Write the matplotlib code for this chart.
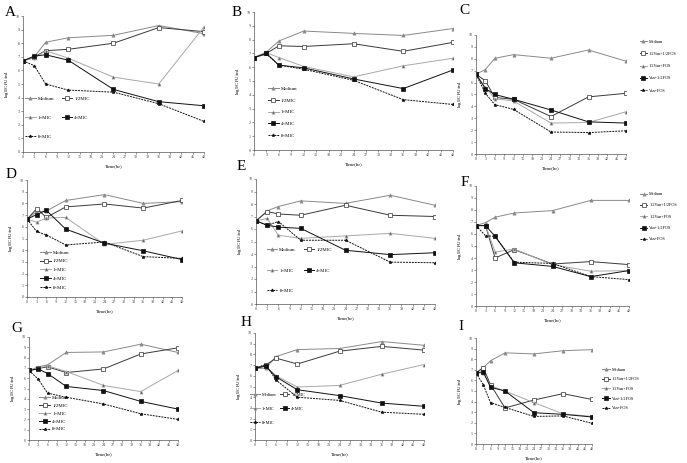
import matplotlib
matplotlib.use("Agg")
from matplotlib import pyplot as plt

plt.rcParams['font.family'] = ['Liberation Serif', 'DejaVu Serif']
plt.rcParams['mathtext.default'] = 'regular'

hours = [0, 3, 6, 12, 24, 36, 48]
mic_labels = ['Medium', '1/2MIC', '1×MIC', '4×MIC', '8×MIC']
combo_labels = ['Medium', '1/2Van+1/2FOS', '1/2Van+FOS', 'Van+1/2FOS', 'Van+FOS']

# log10 CFU/ml, one list per curve
a_medium = [6.7, 7.0, 8.07, 8.4, 8.58, 9.3, 8.7]
a_half = [6.7, 7.0, 7.45, 7.55, 8.0, 9.15, 8.85]
a_1x = [6.7, 6.9, 7.45, 6.9, 5.5, 5.0, 9.2]
a_4x = [6.7, 7.05, 7.15, 6.75, 4.6, 3.7, 3.4]
a_8x = [6.7, 6.35, 5.0, 4.55, 4.4, 3.55, 2.25]

b_medium = [6.7, 7.1, 7.9, 8.62, 8.45, 8.3, 8.8]
b_half = [6.7, 7.0, 7.55, 7.5, 7.7, 7.15, 7.8]
b_1x = [6.7, 7.05, 6.7, 6.05, 5.3, 6.1, 6.65]
b_4x = [6.7, 7.0, 6.15, 5.95, 5.15, 4.45, 5.8]
b_8x = [6.7, 6.95, 6.15, 5.85, 5.05, 3.65, 3.3]

c_medium = [6.7, 7.1, 8.04, 8.35, 8.05, 8.74, 7.8]
c_half_half = [6.7, 6.15, 4.75, 4.6, 3.15, 4.8, 5.1]
c_half_full = [6.7, 5.6, 4.65, 4.45, 2.6, 2.65, 3.55]
c_full_half = [6.7, 5.5, 5.0, 4.6, 3.7, 2.7, 2.6]
c_full_full = [6.7, 5.1, 4.15, 3.75, 1.85, 1.8, 1.95]

d_medium = [6.65, 7.3, 7.35, 8.25, 8.75, 8.0, 8.15]
d_half = [6.65, 7.55, 6.8, 7.7, 7.95, 7.6, 8.25]
d_1x = [6.65, 6.4, 6.75, 6.8, 4.5, 4.85, 5.65]
d_4x = [6.65, 7.05, 7.4, 5.8, 4.6, 3.95, 3.2]
d_8x = [6.65, 5.6, 5.3, 4.45, 4.7, 3.45, 3.3]

e_medium = [6.65, 7.45, 7.8, 8.25, 8.05, 8.7, 7.9]
e_half = [6.65, 7.4, 7.2, 7.1, 7.9, 7.1, 7.0]
e_1x = [6.65, 6.85, 5.5, 5.25, 5.45, 5.65, 5.25]
e_4x = [6.65, 6.3, 6.15, 6.05, 4.3, 3.95, 4.1]
e_8x = [6.65, 6.3, 6.6, 5.1, 5.1, 3.35, 3.3]

f_medium = [6.7, 6.95, 7.4, 7.75, 7.95, 8.8, 8.8]
f_half_half = [6.7, 6.7, 4.0, 4.7, 3.5, 3.7, 3.45]
f_half_full = [6.7, 6.7, 4.5, 4.75, 3.45, 2.9, 2.95]
f_full_half = [6.7, 6.7, 5.8, 3.6, 3.3, 2.45, 2.95]
f_full_full = [6.7, 5.85, 5.8, 3.65, 3.55, 2.45, 2.2]

g_medium = [6.75, 7.1, 7.3, 8.5, 8.55, 9.3, 8.5]
g_half = [6.75, 6.95, 7.1, 6.55, 6.9, 8.35, 8.95]
g_1x = [6.75, 7.0, 7.2, 6.65, 5.3, 4.7, 6.75]
g_4x = [6.75, 6.9, 6.45, 5.2, 4.8, 3.75, 3.0]
g_8x = [6.75, 5.9, 4.55, 4.15, 3.5, 2.55, 2.0]

h_medium = [6.7, 6.7, 7.8, 8.45, 8.55, 9.2, 8.85]
h_half = [6.7, 7.0, 7.65, 7.1, 8.3, 8.75, 8.4]
h_1x = [6.7, 6.9, 6.0, 4.95, 5.1, 6.15, 7.05]
h_4x = [6.7, 6.9, 5.9, 4.7, 4.15, 3.45, 3.15]
h_8x = [6.7, 7.05, 5.6, 4.0, 3.7, 2.6, 2.4]

i_medium = [6.7, 7.2, 7.85, 8.6, 8.5, 8.8, 8.9]
i_half_half = [6.7, 7.2, 5.6, 3.4, 4.15, 4.75, 4.2]
i_half_full = [6.7, 6.7, 5.5, 5.0, 3.9, 2.85, 2.6]
i_full_half = [6.7, 6.8, 5.35, 5.0, 2.95, 2.8, 2.55]
i_full_full = [6.7, 5.6, 3.9, 3.45, 2.6, 2.65, 1.95]

styles = [
    dict(color='#8a8a8a', ls='-', marker='^', mfc='#8a8a8a'),
    dict(color='#3a3a3a', ls='-', marker='s', mfc='white'),
    dict(color='#a8a8a8', ls='-', marker='^', mfc='#555555'),
    dict(color='#111111', ls='-', marker='s', mfc='#111111'),
    dict(color='#111111', ls=(0, (2, 1)), marker='*', mfc='#111111'),
]

fig = plt.figure(figsize=(6.87, 4.63), dpi=100)
W, H = 687.0, 463.0


def panel(px, letter, lpos, curves, labels, leg):
    x0, y0, x1, y1 = px
    ax = fig.add_axes([x0 / W, 1 - y1 / H, (x1 - x0) / W, (y1 - y0) / H])
    handles = []
    for vals, lab, st in zip(curves, labels, styles):
        h, = ax.plot(hours, vals, lw=0.7, ms=2.3, mew=0.5,
                     mec=st['color'] if st['mfc'] != 'white' else '#333333',
                     label=lab, color=st['color'], ls=st['ls'], marker=st['marker'], mfc=st['mfc'])
        handles.append(h)
    ax.set_xlim(0, 48)
    ax.set_ylim(0, 10)
    ax.set_xticks(range(0, 49, 3))
    ax.set_yticks(range(0, 11))
    for s in ['top', 'right']:
        ax.spines[s].set_visible(False)
    for s in ['left', 'bottom']:
        ax.spines[s].set_linewidth(0.5)
        ax.spines[s].set_color('#555555')
    ax.tick_params(labelsize=3, length=1.5, width=0.4, pad=1, colors='#444444')
    ax.set_xlabel('Time(hr)', fontsize=3.5, labelpad=3)
    ax.set_ylabel('log$_{10}$CFU/ml', fontsize=3.5, labelpad=3)
    fig.text(lpos[0] / W, 1 - lpos[1] / H, letter, fontsize=11, va='center', ha='left')
    ncol, anchor, spacing, colsp, fs, hl = leg
    if ncol == 2:
        order = [0, 2, 4, 1, 3]
        handles = [handles[k] for k in order]
    ax.legend(handles=handles, loc='upper left', bbox_to_anchor=anchor, frameon=False,
              fontsize=fs, ncol=ncol, labelspacing=spacing, handlelength=hl,
              handletextpad=0.4, columnspacing=colsp, borderaxespad=0, borderpad=0)
    return ax


panel((23, 16, 204, 152), 'A', (5, 12), [a_medium, a_half, a_1x, a_4x, a_8x], mic_labels,
      (2, (0.01, 0.41), 3.0, 1.6, 3.5, 2.2))
panel((254, 12, 453, 150), 'B', (232, 12), [b_medium, b_half, b_1x, b_4x, b_8x], mic_labels,
      (1, (0.07, 0.46), 1.5, 1.0, 3.5, 2.2))
panel((476, 35, 626, 154), 'C', (459, 10), [c_medium, c_half_half, c_half_full, c_full_half, c_full_full],
      combo_labels, (1, (1.09, 0.96), 1.9, 1.0, 3.1, 1.8))
panel((27, 180, 182, 297), 'D', (6, 174), [d_medium, d_half, d_1x, d_4x, d_8x], mic_labels,
      (1, (0.085, 0.40), 0.9, 1.0, 3.5, 2.2))
panel((256, 179, 435, 304), 'E', (237, 167), [e_medium, e_half, e_1x, e_4x, e_8x], mic_labels,
      (2, (0.06, 0.45), 3.3, 1.6, 3.5, 2.2))
panel((476, 186, 629, 306), 'F', (461, 182), [f_medium, f_half_half, f_half_full, f_full_half, f_full_full],
      combo_labels, (1, (1.07, 0.95), 1.7, 1.0, 3.1, 1.8))
panel((29, 337, 178, 440), 'G', (11, 329), [g_medium, g_half, g_1x, g_4x, g_8x], mic_labels,
      (1, (0.07, 0.43), 0.7, 1.0, 3.5, 2.2))
panel((255, 333, 424, 440), 'H', (241, 323), [h_medium, h_half, h_1x, h_4x, h_8x], mic_labels,
      (2, (-0.03, 0.44), 2.2, 0.8, 3.2, 2.2))
panel((476, 338, 592, 444), 'I', (458, 326), [i_medium, i_half_half, i_half_full, i_full_half, i_full_full],
      combo_labels, (1, (1.09, 0.72), 1.3, 1.0, 3.1, 1.8))

fig.savefig('out.png', dpi=100)
